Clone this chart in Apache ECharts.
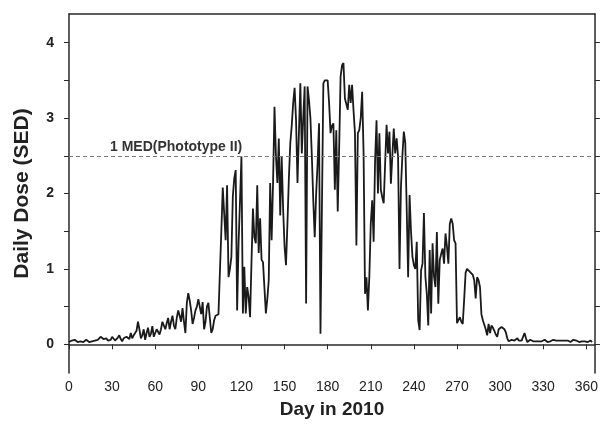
<!DOCTYPE html>
<html>
<head>
<meta charset="utf-8">
<script src="https://cdn.jsdelivr.net/npm/echarts@6/dist/echarts.min.js"></script>
<style>html,body{margin:0;padding:0;background:#fff;}#c{width:601px;height:429px;}</style>
</head>
<body>
<div id="c"></div>
<script>
// Daily UV dose (SED), day 0..364 of 2010
const dose = [
 0.03,0.04,0.05,0.04,0.06,0.05,0.03,0.02,0.04,0.05,
 0.03,0.04,0.06,0.04,0.03,0.05,0.04,0.06,0.05,0.04,
 0.06,0.08,0.1,0.09,0.07,0.06,0.08,0.05,0.03,0.06,
 0.1,0.08,0.05,0.03,0.09,0.12,0.07,0.04,0.08,0.06,
 0.1,0.09,0.07,0.15,0.08,0.12,0.1,0.18,0.3,0.2,
 0.08,0.12,0.2,0.06,0.15,0.22,0.1,0.14,0.24,0.1,
 0.15,0.2,0.18,0.13,0.2,0.3,0.25,0.2,0.28,0.35,
 0.2,0.3,0.38,0.25,0.2,0.35,0.45,0.38,0.3,0.48,
 0.3,0.15,0.55,0.68,0.58,0.45,0.27,0.35,0.45,0.5,
 0.6,0.62,0.4,0.56,0.2,0.3,0.5,0.55,0.35,0.15,
 0.2,0.32,0.38,0.36,0.4,0.95,1.5,2.08,2.1,1.38,
 2.11,0.89,1.0,1.16,1.96,2.2,2.31,0.45,1.34,1.9,
 2.49,0.41,1.03,0.41,0.76,0.63,0.36,1.1,1.8,1.42,
 1.34,2.11,1.21,1.67,1.12,1.09,0.75,0.41,0.6,0.85,
 2.14,1.38,2.14,3.15,2.5,2.14,2.73,1.71,2.49,1.8,
 1.3,1.05,1.6,2.2,2.67,2.9,3.2,3.4,2.97,2.14,
 2.8,3.46,2.53,3.0,3.42,0.54,3.42,3.24,3.0,2.49,
 1.9,1.42,2.0,2.4,2.93,0.14,1.8,3.46,3.5,3.48,
 3.5,3.2,2.8,2.9,2.93,2.05,2.84,1.76,2.6,3.55,
 3.7,3.73,3.26,3.24,3.11,3.44,3.2,3.44,3.1,2.8,
 1.31,2.8,2.84,3.0,3.35,2.53,0.67,0.89,0.45,0.9,
 1.6,1.91,1.36,2.44,2.97,2.0,2.8,2.05,1.95,1.87,
 2.4,2.91,2.53,2.82,2.13,2.5,2.86,2.53,2.73,2.49,
 1.0,2.09,2.5,2.82,2.67,1.8,0.89,1.98,1.5,1.16,
 1.05,1.0,1.36,0.32,0.19,0.98,1.07,1.74,0.9,0.67,
 0.25,1.25,0.41,1.34,0.9,0.76,1.49,0.54,1.12,1.2,
 1.27,1.07,1.47,1.3,1.07,1.6,1.67,1.6,1.38,1.34,
 0.28,0.3,0.36,0.3,0.27,0.6,0.95,1.0,0.98,0.96,
 0.95,0.92,0.85,0.61,0.89,0.85,0.76,0.4,0.32,0.3,
 0.2,0.12,0.27,0.15,0.25,0.22,0.18,0.13,0.1,0.2,
 0.22,0.23,0.24,0.2,0.16,0.08,0.04,0.03,0.06,0.04,
 0.05,0.07,0.08,0.05,0.06,0.05,0.1,0.15,0.08,0.03,
 0.05,0.06,0.08,0.04,0.05,0.04,0.03,0.04,0.05,0.04,
 0.05,0.06,0.04,0.03,0.05,0.04,0.05,0.06,0.04,0.05,
 0.04,0.05,0.04,0.05,0.06,0.05,0.04,0.05,0.04,0.03,
 0.05,0.06,0.04,0.05,0.04,0.03,0.05,0.04,0.05,0.04,
 0.05,0.03,0.04,0.05,0.03
];
const xTicks = [0,30,60,90,120,150,180,210,240,270,300,330,360];
const yLabels = [0,1,2,3,4];
const yTicks = [0,0.5,1,1.5,2,2.5,3,3.5,4];
const medValue = 2.5;
const medLabel = '1 MED(Phototype II)';

const font = 'Liberation Sans, Arial, sans-serif';
const axisColor = '#2a2a2a';
const chart = echarts.init(document.getElementById('c'), null, {renderer:'canvas'});
chart.setOption({
  animation:false,
  backgroundColor:'#fff',
  grid:{left:69,right:6,top:14,bottom:56},
  xAxis:[{
    type:'value', min:0, max:366, position:'bottom',
    name:'Day in 2010', nameLocation:'middle', nameGap:27,
    nameTextStyle:{fontFamily:font,fontSize:19,fontWeight:'bold',color:'#222'},
    axisLine:{show:true,lineStyle:{color:axisColor,width:1.5}},
    axisTick:{show:true,inside:false,length:5,customValues:xTicks,lineStyle:{color:axisColor,width:1}},
    axisLabel:{customValues:xTicks,fontFamily:font,fontSize:14,color:'#222',margin:7},
    splitLine:{show:false}
  },{
    type:'value', min:0, max:366, position:'top',
    axisLine:{show:true,onZero:false,lineStyle:{color:axisColor,width:1.5}},
    axisTick:{show:false},axisLabel:{show:false},splitLine:{show:false}
  }],
  yAxis:[{
    type:'value', min:-0.38, max:4.38, position:'left',
    name:'Daily Dose (SED)', nameLocation:'middle', nameGap:36, nameRotate:90,
    nameTextStyle:{fontFamily:font,fontSize:21,fontWeight:'bold',color:'#222'},
    axisLine:{show:true,onZero:false,lineStyle:{color:axisColor,width:1.5}},
    axisTick:{show:true,inside:false,length:5,customValues:yTicks,lineStyle:{color:axisColor,width:1}},
    axisLabel:{customValues:yLabels,fontFamily:font,fontSize:14,fontWeight:'bold',color:'#222',margin:15},
    splitLine:{show:false}
  },{
    type:'value', min:-0.38, max:4.38, position:'right',
    axisLine:{show:true,onZero:false,lineStyle:{color:axisColor,width:1.5}},
    axisTick:{show:true,inside:false,length:5,customValues:yTicks,lineStyle:{color:axisColor,width:1}},
    axisLabel:{show:false},splitLine:{show:false}
  }],
  series:[{
    type:'line',
    xAxisIndex:0, yAxisIndex:0,
    data: dose.map((v,i)=>[i,v]),
    showSymbol:false, symbol:'none',
    lineStyle:{color:'#1a1a1a',width:1.8},
    markLine:{
      silent:true, symbol:'none',
      lineStyle:{color:'#7a7a7a',type:[4,3],width:1.2},
      label:{show:true,formatter:medLabel,position:'insideStartTop',distance:[41,2],
        fontFamily:font,fontSize:14,fontWeight:'bold',color:'#333'},
      data:[{yAxis:medValue}]
    }
  }]
});
</script>
</body>
</html>
